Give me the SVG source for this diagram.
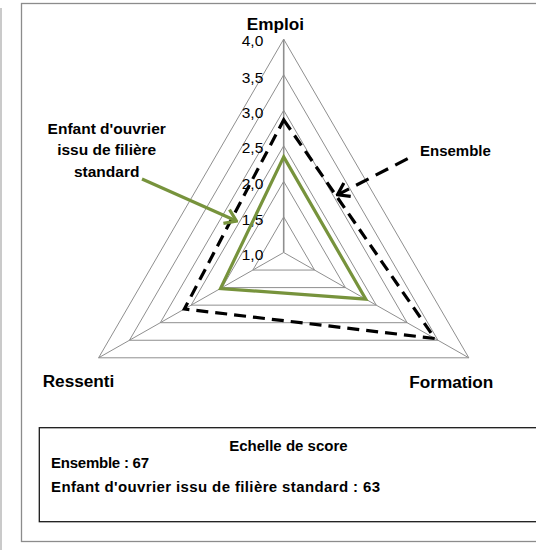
<svg xmlns="http://www.w3.org/2000/svg" width="536" height="553" viewBox="0 0 536 553">
  <style>
    .frame { fill: #ffffff; stroke: #8c8c8c; stroke-width: 1.3; }
    .edge { stroke: #b8b8b8; stroke-width: 1.5; fill: none; }
    .ring { fill: none; stroke: #8f8f8f; stroke-width: 1; }
    .axis { fill: none; stroke: #8f8f8f; stroke-width: 1; }
    .vaxis { fill: none; stroke: #8f8f8f; stroke-width: 1.6; }
    .tick { font-family: "Liberation Sans", Arial, sans-serif; font-size: 15.5px; fill: #000; text-anchor: end; }
    .axlabel { font-family: "Liberation Sans", Arial, sans-serif; font-size: 17.2px; font-weight: bold; fill: #000; }
    .note { font-family: "Liberation Sans", Arial, sans-serif; font-size: 15.5px; font-weight: bold; fill: #000; }
    .legend-box { fill: #ffffff; stroke: #1a1a1a; stroke-width: 1.3; }
    .legend-text { font-family: "Liberation Sans", Arial, sans-serif; font-size: 15px; font-weight: bold; fill: #000; }
    .series-all { fill: none; stroke: #000; stroke-width: 3.2; stroke-dasharray: 12 7; stroke-linejoin: miter; }
    .series-std { fill: none; stroke: #77933c; stroke-width: 3.2; stroke-linejoin: miter; }
    .callout-all { fill: none; stroke: #000; stroke-width: 3.2; stroke-dasharray: 14 8; }
    .callout-std { fill: none; stroke: #77933c; stroke-width: 3.2; }
  </style>
  <defs>
    <marker id="head-black" viewBox="0 0 14 18" refX="12" refY="9" markerWidth="14" markerHeight="18" markerUnits="userSpaceOnUse" orient="auto">
      <path d="M1,1.5 L12,9 L1,16.5" fill="none" stroke="#000" stroke-width="3.2"/>
    </marker>
    <marker id="head-green" viewBox="0 0 14 18" refX="12" refY="9" markerWidth="14" markerHeight="18" markerUnits="userSpaceOnUse" orient="auto">
      <path d="M1,1.5 L12,9 L1,16.5" fill="none" stroke="#77933c" stroke-width="3.2"/>
    </marker>
  </defs>

  <!-- page and chart frames -->
  <rect width="536" height="553" fill="#ffffff"/>
  <line class="edge" x1="1" y1="8" x2="1" y2="550"/>
  <rect class="frame" x="21.5" y="3.5" width="530" height="538"/>

  <!-- radar grid: rings 1,5 to 4,0 -->
  <g id="grid">
    <polygon class="ring" points="283.7,216.95 314.55,270.05 252.85,270.05"/>
    <polygon class="ring" points="283.7,181.4 345.4,287.6 222.0,287.6"/>
    <polygon class="ring" points="283.7,145.85 376.25,305.15 191.15,305.15"/>
    <polygon class="ring" points="283.7,110.3 407.1,322.7 160.3,322.7"/>
    <polygon class="ring" points="283.7,74.75 437.95,340.25 129.45,340.25"/>
    <polygon class="ring" points="283.7,39.2 468.8,357.8 98.6,357.8"/>
    <line class="axis" x1="283.7" y1="252.5" x2="468.8" y2="357.8"/>
    <line class="axis" x1="283.7" y1="252.5" x2="98.6" y2="357.8"/>
    <line class="vaxis" x1="283.7" y1="252.5" x2="283.7" y2="39.2"/>
  </g>

  <!-- value scale -->
  <g id="scale">
    <text class="tick" x="263.3" y="46">4,0</text>
    <text class="tick" x="263.3" y="82.5">3,5</text>
    <text class="tick" x="263.3" y="118">3,0</text>
    <text class="tick" x="263.3" y="153.3">2,5</text>
    <text class="tick" x="263.3" y="189">2,0</text>
    <text class="tick" x="263.3" y="225">1,5</text>
    <text class="tick" x="263.3" y="259.5">1,0</text>
  </g>

  <!-- axis names -->
  <g id="axis-emploi"><text class="axlabel" x="275.5" y="29.5" text-anchor="middle">Emploi</text></g>
  <g id="axis-ressenti"><text class="axlabel" x="42.7" y="386.7">Ressenti</text></g>
  <g id="axis-formation"><text class="axlabel" x="409.3" y="387.7">Formation</text></g>

  <!-- data series -->
  <g id="series-ensemble">
    <polygon class="series-all" points="283.7,119.9 434.9,338.5 184.4,309"/>
  </g>
  <g id="series-standard">
    <polygon class="series-std" points="283.7,156.9 365.8,299.2 220.5,288.5"/>
  </g>

  <!-- callout labels -->
  <g id="label-standard">
    <text class="note" x="106.7" y="133.5" text-anchor="middle">Enfant d'ouvrier</text>
    <text class="note" x="106.7" y="155.3" text-anchor="middle">issu de filière</text>
    <text class="note" x="106.7" y="176.7" text-anchor="middle">standard</text>
  </g>
  <g id="label-ensemble">
    <text class="note" x="420" y="156" style="font-size:15px">Ensemble</text>
  </g>

  <!-- callout connectors -->
  <g id="connectors">
    <line class="callout-std" x1="142" y1="179" x2="236.5" y2="221" marker-end="url(#head-green)"/>
    <line class="callout-all" x1="407.7" y1="158.7" x2="337.5" y2="194.8" marker-end="url(#head-black)"/>
  </g>

  <!-- score legend -->
  <g id="legend">
    <rect class="legend-box" x="39.3" y="427.7" width="510" height="94"/>
    <text class="legend-text" x="288.4" y="451" text-anchor="middle">Echelle de score</text>
    <text class="legend-text" x="51" y="467.5" textLength="98" lengthAdjust="spacing">Ensemble : 67</text>
    <text class="legend-text" x="51" y="492" textLength="329" lengthAdjust="spacing">Enfant d'ouvrier issu de filière standard : 63</text>
  </g>
</svg>
